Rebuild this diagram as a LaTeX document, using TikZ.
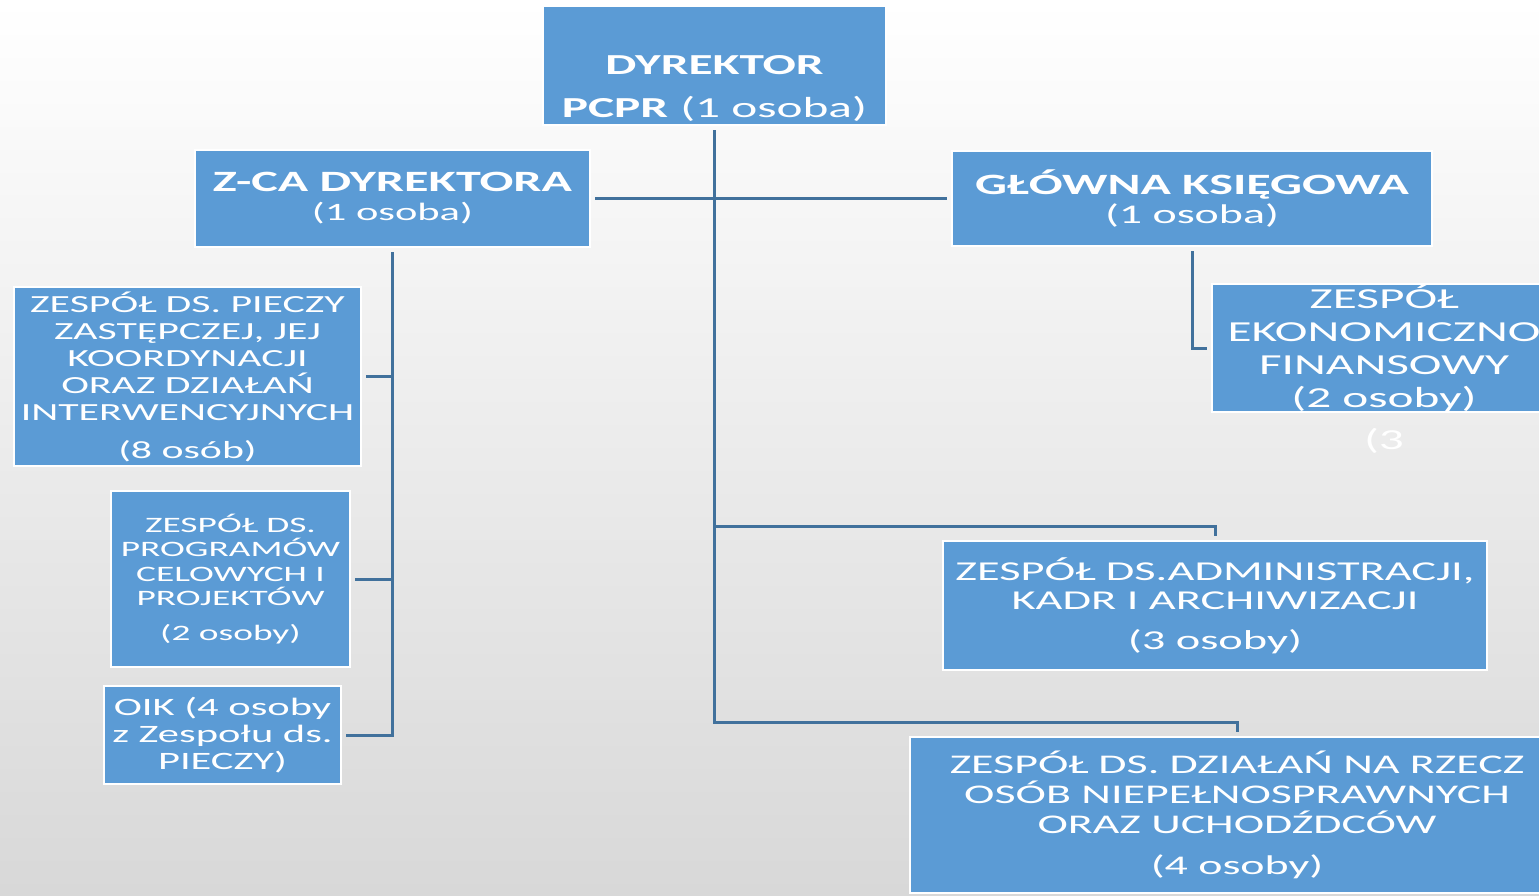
\documentclass[tikz,border=0pt]{standalone}
\usepackage{fontspec}
\setmainfont{Carlito}[FakeStretch = 1.7]
\usepackage{xcolor}
\usetikzlibrary{calc}

\definecolor{unitblue}{HTML}{5B9BD5}
\definecolor{linkblue}{HTML}{41719C}
\definecolor{bgmid}{HTML}{F5F5F5}
\definecolor{bgbottom}{HTML}{D8D8D8}

\begin{document}
\begin{tikzpicture}[x = 1pt, y = -1pt,
		unit/.style = {rectangle, fill = unitblue, draw = white, line width = 2.5pt, text = white, align = center, inner sep = 0pt},
		link/.style = {draw = linkblue, line width = 3pt, shorten <= 4pt, shorten >= 4pt}]
			
			\useasboundingbox (0,0) rectangle (1539,895);
			\clip (0,0) rectangle (1539,895);
			\shade [top color = white, middle color = bgmid, bottom color = bgbottom] (0,0) rectangle (1539,895);
			
			\coordinate (lvA) at (0,526);
			\coordinate (lvB) at (0,722);
			
			\node [unit, minimum width = 343, minimum height = 119, font = \fontsize{29}{33}\selectfont] (dyr) at (714.5,65.5)
				{\rule{0pt}{66pt}\textbf{DYREKTOR}\\[10pt]\textbf{PCPR}\hspace{12pt}(1 osoba)};
			\node [unit, minimum width = 395, minimum height = 97, font = \fontsize{29.5}{29}\selectfont] (zca) at (392.5,198.5)
				{\textbf{Z-CA DYREKTORA}\\{\fontsize{25}{29}\selectfont (1 osoba)}};
			\node [unit, minimum width = 480, minimum height = 95, font = \fontsize{29.5}{29}\selectfont] (gk) at (1192,198.5)
				{\textbf{GŁÓWNA KSIĘGOWA}\\{\fontsize{27}{29}\selectfont (1 osoba)}};
			\node [unit, minimum width = 344, minimum height = 124, font = \fontsize{29}{33}\selectfont] (ekon) at (1384,348)
				{ZESPÓŁ\\EKONOMICZNO\\FINANSOWY\\(2 osoby)};
			\node [text = white, inner sep = 0pt, font = \fontsize{29}{33}\selectfont] (ekonrest) at (1384,441) {(3};
			
			\node [unit, minimum width = 347, minimum height = 179, font = \fontsize{24.6}{27}\selectfont] (piecz) at (187.5,376.5)
				{ZESPÓŁ DS. PIECZY\\ZASTĘPCZEJ, JEJ\\KOORDYNACJI\\ORAZ DZIAŁAŃ\\INTERWENCYJNYCH\\[11pt](8 osób)};
			\node [unit, minimum width = 239, minimum height = 176, font = \fontsize{22}{24.5}\selectfont] (prog) at (230.5,579)
				{ZESPÓŁ DS.\\PROGRAMÓW\\CELOWYCH I\\PROJEKTÓW\\[10pt](2 osoby)};
			\node [unit, minimum width = 237, minimum height = 98, font = \fontsize{25}{27}\selectfont] (oik) at (222.5,735)
				{OIK (4 osoby\\z Zespołu ds.\\PIECZY)};
			
			\node [unit, minimum width = 544, minimum height = 129, font = \fontsize{27.3}{29}\selectfont] (adm) at (1215,605.5)
				{ZESPÓŁ DS.ADMINISTRACJI,\\KADR I ARCHIWIZACJI\\[11pt](3 osoby)};
			\node [unit, minimum width = 654, minimum height = 156, font = \fontsize{27}{30}\selectfont] (dzial) at (1237,815)
				{ZESPÓŁ DS. DZIAŁAŃ NA RZECZ\\OSÓB NIEPEŁNOSPRAWNYCH\\ORAZ UCHODŹDCÓW\\[11pt](4 osoby)};
			
			\draw [link] (dyr.south) -- (dyr.south |- lvB) -| (dzial.north);
			\draw [link, shorten <= 0pt] (dyr.south |- lvA) -| (adm.north);
			\draw [link] (zca.east) -- (gk.west);
			\draw [link] (zca.south) |- (oik.east);
			\draw [link, shorten <= 0pt] (zca.south |- piecz.east) -- (piecz.east);
			\draw [link, shorten <= 0pt] (zca.south |- prog.east) -- (prog.east);
			\draw [link] (gk.south) |- (ekon.west);
		\end{tikzpicture}
\end{document}
